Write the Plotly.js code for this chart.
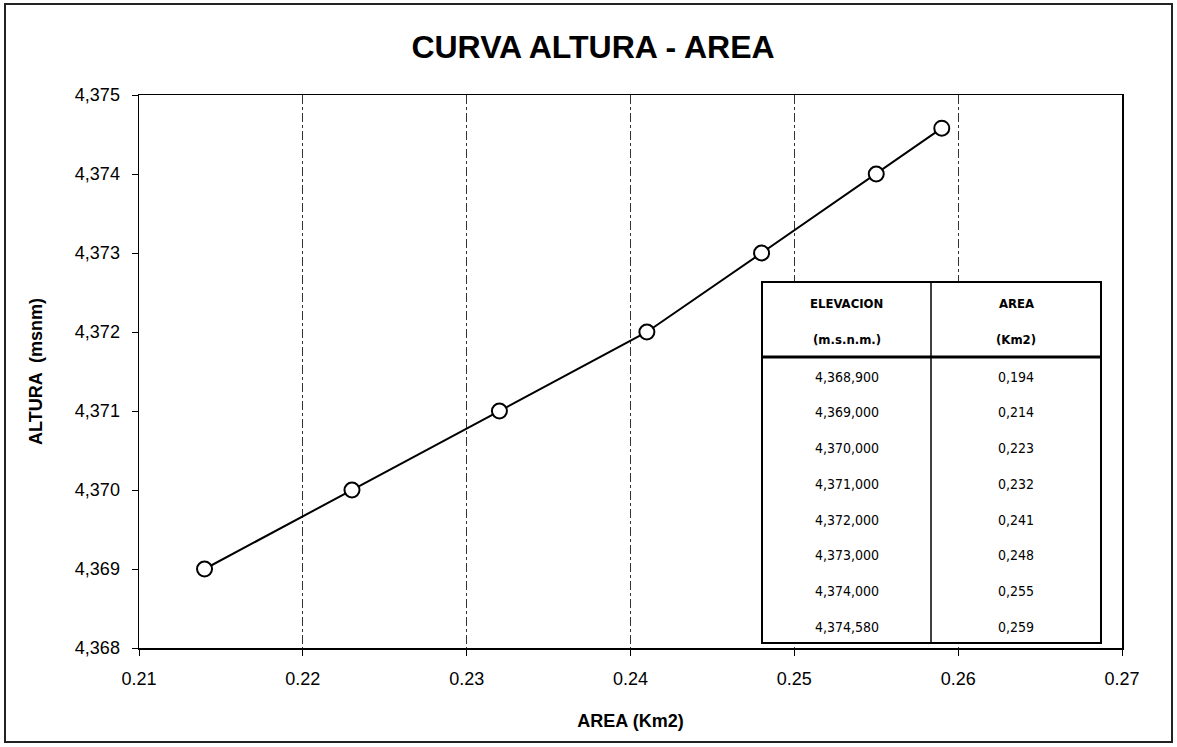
<!DOCTYPE html>
<html><head><meta charset="utf-8">
<script src="https://cdn.plot.ly/plotly-3.0.1.min.js"></script>
<style>html,body{margin:0;padding:0;background:#fff}#chart{width:1177px;height:747px}</style>
</head><body><div id="chart"></div>
<script>
// ---- data ----
const areaKm2 = [0.214, 0.223, 0.232, 0.241, 0.248, 0.255, 0.259];
const alturaMsnm = [4369, 4370, 4371, 4372, 4373, 4374, 4374.58];
const tableHeaderElev = ["ELEVACION", "(m.s.n.m.)"];
const tableHeaderArea = ["AREA", "(Km2)"];
const tableElev = ["4,368,900", "4,369,000", "4,370,000", "4,371,000", "4,372,000", "4,373,000", "4,374,000", "4,374,580"];
const tableArea = ["0,194", "0,214", "0,223", "0,232", "0,241", "0,248", "0,255", "0,259"];
const xTicks = [0.21, 0.22, 0.23, 0.24, 0.25, 0.26, 0.27];
const yTicks = [4368, 4369, 4370, 4371, 4372, 4373, 4374, 4375];
const yTickText = ["4,368", "4,369", "4,370", "4,371", "4,372", "4,373", "4,374", "4,375"];

// ---- layout geometry (pixels) ----
const W = 1177, H = 747;
const M = {l: 139, r: 55, t: 95, b: 99};
const PW = W - M.l - M.r, PH = H - M.t - M.b;
const px = x => (x - M.l) / PW;
const py = y => 1 - (y - M.t) / PH;

const FONT = "Liberation Sans, Arial, sans-serif";
const NARROW = "DejaVu Sans Condensed, Liberation Sans Narrow, Arial Narrow, Liberation Sans, sans-serif";

const shapes = [];
const annotations = [];

// outer frame
shapes.push({type: 'rect', xref: 'paper', yref: 'paper', x0: px(5), x1: px(1172), y0: py(742), y1: py(4),
  line: {color: '#222', width: 2}, fillcolor: 'rgba(0,0,0,0)', layer: 'below'});

// table
const T = {x0: 762, x1: 1101, xm: 931, y0: 282, yh: 357, y1: 643};
shapes.push({type: 'rect', xref: 'paper', yref: 'paper', x0: px(T.x0), x1: px(T.x1), y0: py(T.y1), y1: py(T.y0),
  line: {color: '#000', width: 2}, fillcolor: '#fff', layer: 'above'});
shapes.push({type: 'line', xref: 'paper', yref: 'paper', x0: px(T.x0), x1: px(T.x1), y0: py(T.yh), y1: py(T.yh),
  line: {color: '#000', width: 3}});
shapes.push({type: 'line', xref: 'paper', yref: 'paper', x0: px(T.xm), x1: px(T.xm), y0: py(T.y1), y1: py(T.y0),
  line: {color: '#000', width: 1.5}});
const c1 = (T.x0 + T.xm) / 2, c2 = (T.xm + T.x1) / 2;
const hdrY = [303, 340];
for (let i = 0; i < 2; i++) {
  annotations.push({xref: 'paper', yref: 'paper', x: px(c1), y: py(hdrY[i]), text: '<b>' + tableHeaderElev[i] + '</b>',
    showarrow: false, font: {family: NARROW, size: 13, color: '#000'}, xanchor: 'center', yanchor: 'middle'});
  annotations.push({xref: 'paper', yref: 'paper', x: px(c2), y: py(hdrY[i]), text: '<b>' + tableHeaderArea[i] + '</b>',
    showarrow: false, font: {family: NARROW, size: 13, color: '#000'}, xanchor: 'center', yanchor: 'middle'});
}
const rowH = (T.y1 - T.yh) / tableElev.length;
tableElev.forEach((v, i) => {
  const yy = T.yh + rowH * (i + 0.55);
  annotations.push({xref: 'paper', yref: 'paper', x: px(c1), y: py(yy), text: v, showarrow: false,
    font: {family: NARROW, size: 14, color: '#000'}, xanchor: 'center', yanchor: 'middle'});
  annotations.push({xref: 'paper', yref: 'paper', x: px(c2), y: py(yy), text: tableArea[i], showarrow: false,
    font: {family: NARROW, size: 14, color: '#000'}, xanchor: 'center', yanchor: 'middle'});
});

const trace = {
  x: areaKm2, y: alturaMsnm, type: 'scatter', mode: 'lines+markers',
  line: {color: '#000', width: 2},
  marker: {symbol: 'circle', size: 15, color: '#fff', line: {color: '#000', width: 2}},
  hoverinfo: 'x+y'
};

const layout = {
  width: W, height: H,
  margin: M,
  paper_bgcolor: '#fff', plot_bgcolor: '#fff',
  showlegend: false,
  title: {text: '<b>CURVA ALTURA - AREA</b>', x: 593 / W, xref: 'container', xanchor: 'center', y: 1 - 47 / H, yanchor: 'middle',
    font: {family: FONT, size: 32, color: '#000'}},
  xaxis: {
    range: [0.21, 0.27], tickvals: xTicks, ticktext: xTicks.map(v => v.toFixed(2)),
    showgrid: true, gridcolor: '#333', gridwidth: 1, griddash: 'dashdot',
    zeroline: false, showline: true, linecolor: '#000', linewidth: 1.5, mirror: true,
    ticks: 'outside', ticklen: 6, tickcolor: '#000', ticklabelstandoff: 8,
    tickfont: {family: FONT, size: 18, color: '#000'},
    title: {text: '<b>AREA (Km2)</b>', font: {family: FONT, size: 18, color: '#000'}, standoff: 26}
  },
  yaxis: {
    range: [4368, 4375], tickvals: yTicks, ticktext: yTickText,
    showgrid: false, zeroline: false, showline: true, linecolor: '#000', linewidth: 1.5, mirror: true,
    ticks: 'outside', ticklen: 6, tickcolor: '#000', ticklabelstandoff: 8,
    tickfont: {family: FONT, size: 18, color: '#000'},
    title: {text: '<b>ALTURA  (msnm)</b>', font: {family: FONT, size: 18, color: '#000'}, standoff: 27}
  },
  shapes: shapes,
  annotations: annotations
};

Plotly.newPlot('chart', [trace], layout, {displayModeBar: false, staticPlot: true});
</script></body></html>
